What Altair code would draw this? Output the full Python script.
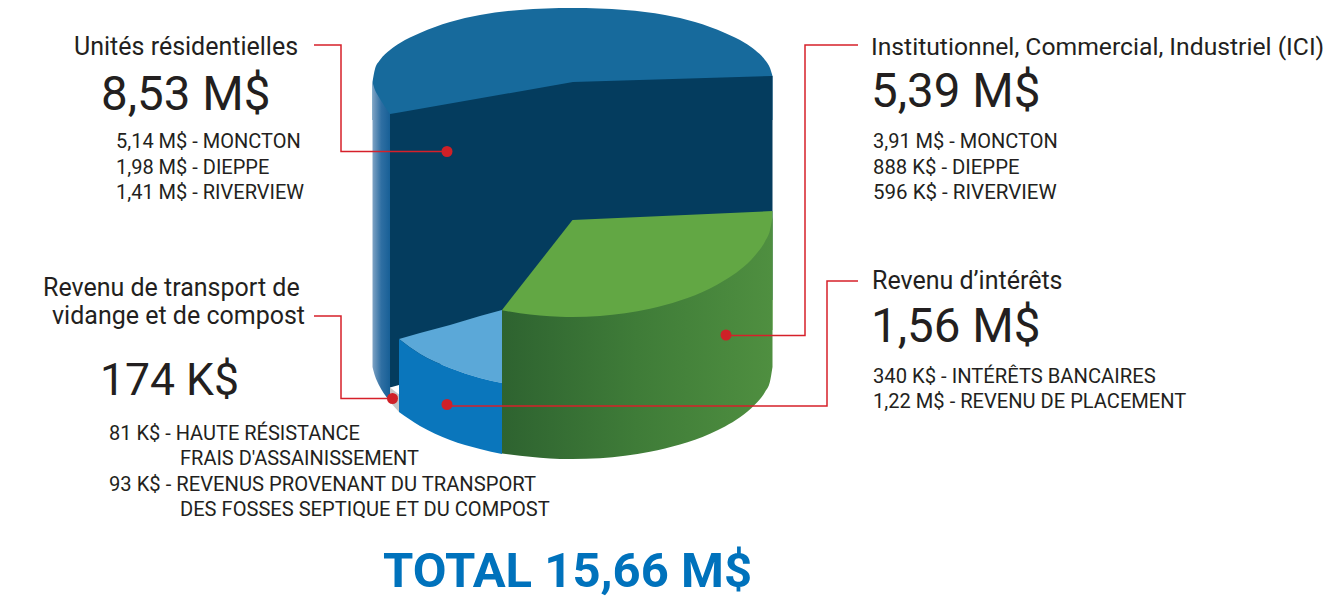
import altair as alt
import pandas as pd

# ---- figures shown on the chart -------------------------------------------
heading_text = ["Unités résidentielles", "Institutionnel, Commercial, Industriel (ICI)",
                "Revenu d’intérêts", "Revenu de transport de", "vidange et de compost"]
heading_x = [74, 871, 872, 43, 52]
heading_y = [55, 55, 289, 296, 324]
heading_size = [25, 24.7, 25, 25, 25]

big_text = ["8,53 M$", "5,39 M$", "1,56 M$", "174 K$"]
big_x = [101, 871, 871, 100]
big_y = [110, 107, 342, 395]
big_size = [47.5, 47.5, 47.5, 44.5]

sub_text = ["5,14 M$ - MONCTON", "1,98 M$ - DIEPPE", "1,41 M$ - RIVERVIEW",
            "3,91 M$ - MONCTON", "888 K$ - DIEPPE", "596 K$ - RIVERVIEW",
            "340 K$ - INTÉRÊTS BANCAIRES", "1,22 M$ - REVENU DE PLACEMENT",
            "81 K$ - HAUTE RÉSISTANCE", "FRAIS D'ASSAINISSEMENT",
            "93 K$ - REVENUS PROVENANT DU TRANSPORT", "DES FOSSES SEPTIQUE ET DU COMPOST"]
sub_x = [116, 116, 116, 873, 873, 873, 873, 873, 109, 180, 109, 180]
sub_y = [148, 174, 199, 148, 174, 199, 383, 408, 439.5, 464.5, 490.5, 515.5]
sub_size = [20, 20, 20, 20, 20.3, 20.5, 20.2, 20.1, 20, 20, 20.2, 20.1]

total_text = ["TOTAL 15,66 M$"]
total_x = [383]
total_y = [587]
total_size = [49]

# ---- outline of the drawn cylinder ------------------------------------------
disc_x = [372.5, 375, 380, 390, 400, 420, 450, 480, 520, 572.5, 625, 665, 695, 725, 745, 755, 765, 770, 772.5]
disc_y = [82, 69, 60, 50, 43, 33, 22, 15, 10, 8, 10, 15, 22, 33, 43, 50, 60, 68, 76]
disc_y2 = [120] * 19

strip_x = [372.5, 375, 377, 380, 385, 390]
strip_y = [82, 90, 94, 99, 107, 114]
strip_y2 = [367, 376, 381, 387, 395, 402]

navy_x = [390, 399, 573, 772.5]
navy_y = [114, 112.5, 82, 76]
navy_y2 = [387.5, 385, 300, 300]

gray_x = [390, 399]
gray_y = [387.5, 394.5]
gray_y2 = [402, 412]

light_x = [399, 420, 450, 480, 502]
light_y = [339, 333, 325, 316, 310]
light_y2 = [339, 354, 368, 378, 383]

blue_x = [399, 420, 450, 480, 502]
blue_y = [339, 354, 368, 378, 383]
blue_y2 = [412, 426, 440, 449, 454]

gtop_x = [502, 572.5, 772.5]
gtop_y = [310, 220, 211]
gtop_y2 = [330, 330, 330]

gside_x = [502, 520, 540, 560, 572.5, 600, 625, 650, 680, 710, 725, 740, 755, 765, 770, 772.5]
gside_y = [310.3, 313.3, 315.6, 316.8, 317, 316, 313.3, 308.8, 300.6, 288.4, 280, 269.8, 255.5, 241.4, 230, 217]
gside_y2 = [453.5, 455.8, 457.8, 458.9, 459, 458.3, 455.8, 451.8, 444.6, 433.8, 426.5, 417.3, 404.6, 392, 381.5, 367]

# ---- leader lines and their dots --------------------------------------------
leader_id = [0, 0, 0, 0, 1, 1, 1, 1, 2, 2, 2, 2, 3, 3, 3, 3]
leader_x = [314, 341, 341, 447, 858, 805, 805, 726, 858, 827, 827, 447, 314, 341, 341, 392]
leader_y = [45, 45, 151.5, 151.5, 45, 45, 335.5, 335.5, 281, 281, 406, 406, 316, 316, 398.5, 398.5]
dot_x = [447, 726, 447, 392.5]
dot_y = [151.5, 335, 404.5, 398.5]

X_SCALE = alt.Scale(domain=[8, 1326])
Y_SCALE = alt.Scale(domain=[601, 8])
FONT = "Roboto"
INK = "#231f20"
RED = "#d6202a"


def region(xs, ys, y2s, color, interpolate="monotone"):
    df = pd.DataFrame({"x": xs, "y": ys, "y2": y2s})
    return alt.Chart(df).mark_area(color=color, interpolate=interpolate).encode(
        x=alt.X("x:Q", scale=X_SCALE, axis=None),
        y=alt.Y("y:Q", scale=Y_SCALE, axis=None),
        y2="y2:Q",
    )


def labels(texts, xs, ys, sizes, color=INK, weight="normal"):
    df = pd.DataFrame({"x": xs, "y": ys, "t": texts, "s": sizes})
    return alt.Chart(df).mark_text(
        align="left", baseline="alphabetic", font=FONT, color=color, fontWeight=weight
    ).encode(
        x=alt.X("x:Q", scale=X_SCALE, axis=None),
        y=alt.Y("y:Q", scale=Y_SCALE, axis=None),
        size=alt.Size("s:Q", scale=None, legend=None),
        text="t:N",
    )


def h_gradient(stops):
    return alt.Gradient(
        gradient="linear", x1=0, x2=1, y1=0, y2=0,
        stops=[alt.GradientStop(offset=o, color=c) for o, c in stops],
    )


leaders = alt.Chart(pd.DataFrame({
    "id": leader_id, "x": leader_x, "y": leader_y, "i": list(range(len(leader_x)))
})).mark_line(color=RED, strokeWidth=1.5).encode(
    x=alt.X("x:Q", scale=X_SCALE, axis=None),
    y=alt.Y("y:Q", scale=Y_SCALE, axis=None),
    detail="id:N",
    order="i:Q",
)

dots = alt.Chart(pd.DataFrame({"x": dot_x, "y": dot_y})).mark_point(
    filled=True, color="#cf2027", size=121, opacity=1
).encode(
    x=alt.X("x:Q", scale=X_SCALE, axis=None),
    y=alt.Y("y:Q", scale=Y_SCALE, axis=None),
)

chart = alt.layer(
    region(disc_x, disc_y, disc_y2, "#176a9c"),
    region(strip_x, strip_y, strip_y2, h_gradient([(0, "#7fa3c4"), (0.5, "#2f6fa3"), (1, "#175f96")])),
    region(navy_x, navy_y, navy_y2, "#043c5e", "linear"),
    region(gray_x, gray_y, gray_y2, "#c6c6c6", "linear"),
    region(light_x, light_y, light_y2, "#5ba8d8"),
    region(blue_x, blue_y, blue_y2, "#0a76bc"),
    region(gtop_x, gtop_y, gtop_y2, "#62a744", "linear"),
    region(gside_x, gside_y, gside_y2, h_gradient([(0, "#2e6330"), (0.5, "#3f7c38"), (1, "#4f8f40")])),
    leaders,
    dots,
    labels(heading_text, heading_x, heading_y, heading_size),
    labels(big_text, big_x, big_y, big_size),
    labels(sub_text, sub_x, sub_y, sub_size),
    labels(total_text, total_x, total_y, total_size, color="#0072bc", weight="bold"),
).properties(
    width=1318, height=593, padding=0,
    autosize=alt.AutoSizeParams(type="none"),
).configure_view(stroke=None)

chart.save("out.html", embed_options={"renderer": "svg", "actions": False})
